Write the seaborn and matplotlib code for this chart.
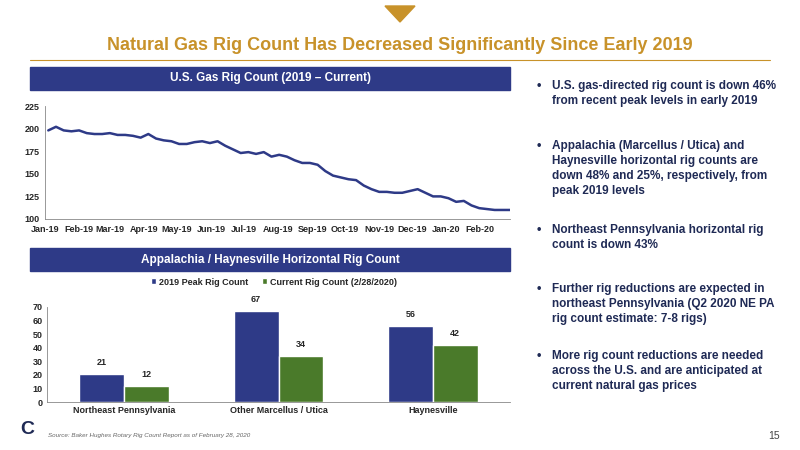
import numpy as np
import pandas as pd
import matplotlib.pyplot as plt
from matplotlib.patches import Rectangle, Polygon
import seaborn as sns

# weekly U.S. gas rig count, Jan 2019 - Feb 2020
gas_rigs = [198, 202, 198, 197, 198, 195, 194, 194, 195, 193, 193, 192, 190, 194,
            189, 187, 186, 183, 183, 185, 186, 184, 186, 181, 177, 173, 174, 172,
            174, 169, 171, 169, 165, 162, 162, 160, 153, 148, 146, 144, 143, 137,
            133, 130, 130, 129, 129, 131, 133, 129, 125, 125, 123, 119, 120, 115,
            112, 111, 110, 110, 110]
weeks = pd.date_range('2019-01-04', periods=len(gas_rigs), freq='7D')
month_ticks = pd.date_range('2019-01-01', '2020-02-01', freq='MS')

regions = ['Northeast Pennsylvania', 'Other Marcellus / Utica', 'Haynesville']
peak_2019 = [21, 67, 56]
current = [12, 34, 42]

navy = '#2E3A87'
green = '#4A7A2A'
gold = '#C8922A'

sns.set_theme(style='white')
plt.rcParams['font.family'] = ['Liberation Sans', 'DejaVu Sans']

fig = plt.figure(figsize=(8, 4.5), dpi=100)
fig.patch.set_facecolor('white')

# top marker and title
fig.patches.append(Polygon([[385/800, 1 - 6/450], [415/800, 1 - 6/450], [400/800, 1 - 22/450]],
                           closed=True, transform=fig.transFigure, color=gold))
fig.text(0.5, 1 - 45/450, 'Natural Gas Rig Count Has Decreased Significantly Since Early 2019',
         ha='center', va='center', color=gold, fontsize=13, fontweight='bold')
fig.add_artist(plt.Line2D([30/800, 770/800], [1 - 60/450, 1 - 60/450], color=gold, lw=0.8))

# header bars
for y0, label in [(67, 'U.S. Gas Rig Count (2019 – Current)'),
                  (248, 'Appalachia / Haynesville Horizontal Rig Count')]:
    fig.patches.append(Rectangle((30/800, 1 - (y0 + 23)/450), 480/800, 23/450,
                                 transform=fig.transFigure, color=navy))
    fig.text(270/800, 1 - (y0 + 11.5)/450, label, ha='center', va='center',
             color='white', fontsize=8.5, fontweight='bold')

# line chart
ax1 = fig.add_axes([45/800, 1 - 219/450, 465/800, 113/450])
df_line = pd.DataFrame({'week': weeks, 'rigs': gas_rigs})
sns.lineplot(data=df_line, x='week', y='rigs', ax=ax1, color=navy, lw=1.8)
ax1.set_ylim(100, 225)
ax1.set_yticks(range(100, 226, 25))
ax1.set_xlim(month_ticks[0], weeks[-1])
ax1.set_xticks(list(month_ticks))
ax1.set_xticklabels([d.strftime('%b-%y') for d in month_ticks])
ax1.set_xlabel('')
ax1.set_ylabel('')
ax1.tick_params(labelsize=6.5, length=2, pad=2)
for lbl in ax1.get_xticklabels() + ax1.get_yticklabels():
    lbl.set_fontweight('bold')
for s in ['top', 'right']:
    ax1.spines[s].set_visible(False)
for s in ['left', 'bottom']:
    ax1.spines[s].set_color('#888888')
    ax1.spines[s].set_linewidth(0.6)

# bar chart
ax2 = fig.add_axes([47/800, 1 - 402/450, 463/800, 95/450])
df_bar = pd.DataFrame({
    'region': regions * 2,
    'rigs': peak_2019 + current,
    'series': ['2019 Peak Rig Count'] * 3 + ['Current Rig Count (2/28/2020)'] * 3,
})
sns.barplot(data=df_bar, x='region', y='rigs', hue='series', ax=ax2,
            palette=[navy, green], width=0.58, saturation=1)
for c in ax2.containers:
    ax2.bar_label(c, padding=5, fontsize=6.5, fontweight='bold')
ax2.set_ylim(0, 70)
ax2.set_yticks(range(0, 71, 10))
ax2.set_xlabel('')
ax2.set_ylabel('')
ax2.tick_params(labelsize=6.5, length=0, pad=3)
for lbl in ax2.get_xticklabels() + ax2.get_yticklabels():
    lbl.set_fontweight('bold')
for s in ['top', 'right']:
    ax2.spines[s].set_visible(False)
for s in ['left', 'bottom']:
    ax2.spines[s].set_color('#888888')
    ax2.spines[s].set_linewidth(0.6)
ax2.legend(loc='lower center', bbox_to_anchor=(0.49, 1.13), ncol=2, frameon=False,
           handlelength=0.6, handleheight=0.6, handletextpad=0.3,
           columnspacing=1.5, prop={'weight': 'bold', 'size': 6.5})

# bullets
bullets = [
    (80, 'U.S. gas-directed rig count is down 46%\nfrom recent peak levels in early 2019'),
    (140, 'Appalachia (Marcellus / Utica) and\nHaynesville horizontal rig counts are\n'
          'down 48% and 25%, respectively, from\npeak 2019 levels'),
    (224, 'Northeast Pennsylvania horizontal rig\ncount is down 43%'),
    (283, 'Further rig reductions are expected in\nnortheast Pennsylvania (Q2 2020 NE PA\n'
          'rig count estimate: 7-8 rigs)'),
    (350, 'More rig count reductions are needed\nacross the U.S. and are anticipated at\n'
          'current natural gas prices'),
]
for y, txt in bullets:
    fig.text(537/800, 1 - y/450, '•', ha='left', va='top', fontsize=9, fontweight='bold',
             color='#1F2A55')
    fig.text(552/800, 1 - y/450, txt, ha='left', va='top', fontsize=8.5, fontweight='bold',
             color='#1F2A55', linespacing=1.35)

# footer
fig.text(20/800, 1 - 430/450, 'C', ha='left', va='center', fontsize=14,
         fontweight='bold', color='#1F2A55')
fig.text(48/800, 1 - 436/450, 'Source: Baker Hughes Rotary Rig Count Report as of February 28, 2020',
         ha='left', va='center', fontsize=4.5, style='italic', color='#666666')
fig.text(780/800, 1 - 436/450, '15', ha='right', va='center', fontsize=7.5, color='#444444')

fig.savefig('out.png', dpi=100)
